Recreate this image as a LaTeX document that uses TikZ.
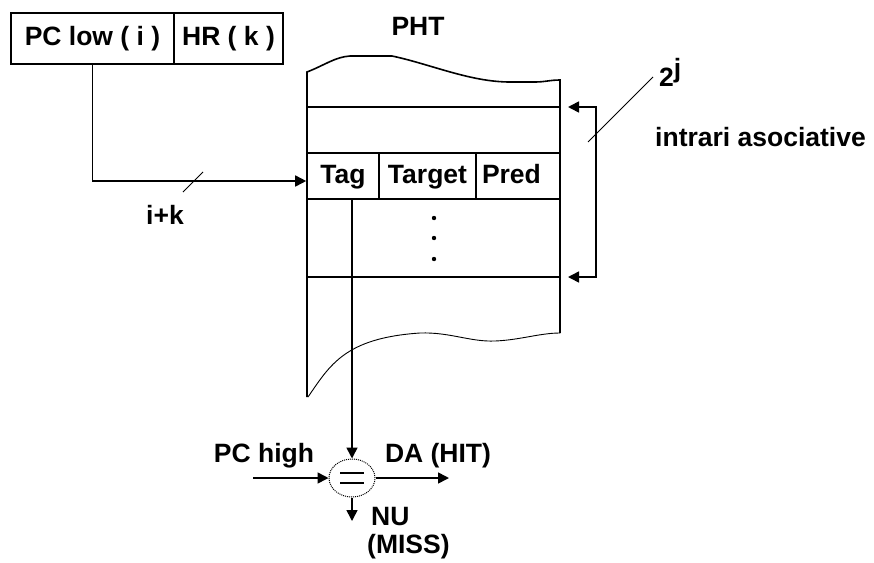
\documentclass[tikz,border=0pt]{standalone}
\usepackage{fontspec}
\setmainfont{Liberation Sans}
\usetikzlibrary{arrows.meta,shapes.geometric,calc}
\begin{document}
\begin{tikzpicture}[x=1pt,y=-1pt,
  font=\fontsize{26.5}{28}\selectfont\bfseries,
  ln/.style={line width=1.6pt},
  thin/.style={line width=0.9pt},
  arr/.style={ln,-{Triangle[length=11pt,width=11pt]}},
  cell/.style={draw,ln,inner sep=0pt,minimum height=51pt,text height=19pt,text depth=5pt},
  row/.style={draw,ln,inner sep=0pt,minimum height=46pt,text height=19pt,text depth=5pt},
  lbl/.style={inner sep=0pt}]
\useasboundingbox (0,0) rectangle (874,562);
% top register
\node[cell,minimum width=163pt] (pclow) at (92.5,38.5) {PC low ( i )};
\node[cell,minimum width=109pt] (hr) at (228.5,38.5) {HR ( k )};
% PHT outline
\draw[ln] (307,397) -- (307,72)
  .. controls (325,65) and (335,57) .. (350,56) -- (392,56)
  .. controls (430,64) and (470,82) .. (510,82) -- (535,82)
  .. controls (545,82) and (550,80) .. (560,80) -- (560,333);
\draw[thin] (308,397) .. controls (330,365) and (345,338) .. (420,333)
  .. controls (450,332) and (470,342) .. (495,341)
  .. controls (520,340) and (540,333) .. (560,333);
\foreach \yy in {107,153,199,277} \draw[ln] (307,\yy) -- (560,\yy);
% Tag row cells
\node[row,minimum width=72pt] (tag) at (343,176) {Tag};
\node[row,minimum width=97pt] (target) at (427.5,176) {Target};
\node[row,minimum width=84pt,text width=72pt,align=left] (pred) at (518,176) {Pred};
\node[lbl] (pht) at (418,26) {PHT};
% dots
\foreach \yy in {218,238,259} \fill (434,\yy) circle (2.2pt);
% input path
\draw[arr] (pclow.south) |- ([yshift=-5pt]tag.west);
\draw[thin] (183,192) -- (203,172);
\node[lbl] (ik) at (165,215) {i+k};
% bracket
\coordinate (t1) at (568,107);
\coordinate (t2) at (568,277);
\draw[ln,{Triangle[length=11pt,width=11pt]}-{Triangle[length=11pt,width=11pt]}] (t1) -- ++(28,0) |- (t2);
\draw[thin] (588,142) -- (653,77);
\node[lbl,anchor=south west] (twoj) at (659,87) {2\raisebox{9pt}{j}};
\node[lbl,anchor=west] (intr) at (655,137) {intrari asociative};
% comparator
\node[draw,densely dotted,line width=1pt,ellipse,minimum width=46pt,minimum height=38pt,inner sep=0pt] (cmp) at (352,478) {};
\draw[line width=1.4pt] ($(cmp)+(-12,-5)$) -- ($(cmp)+(12,-5)$);
\draw[line width=1.4pt] ($(cmp)+(-12,5)$) -- ($(cmp)+(12,5)$);
\draw[arr] (tag.south -| cmp.north) -- (cmp.north);
\coordinate (pcin) at (253,478);
\coordinate (daout) at (449,478);
\coordinate (nuout) at (352,521);
\draw[arr] (pcin) -- (cmp.west);
\draw[arr] (cmp.east) -- (daout);
\draw[arr] (cmp.south) -- (nuout);
\node[lbl] (pchigh) at (264,456) {PC high};
\node[lbl] (da) at (438,456) {DA (HIT)};
\node[lbl,anchor=west] (nu) at (371,517) {NU};
\node[lbl,anchor=west] (miss) at (367,547) {(MISS)};
\end{tikzpicture}
\end{document}
